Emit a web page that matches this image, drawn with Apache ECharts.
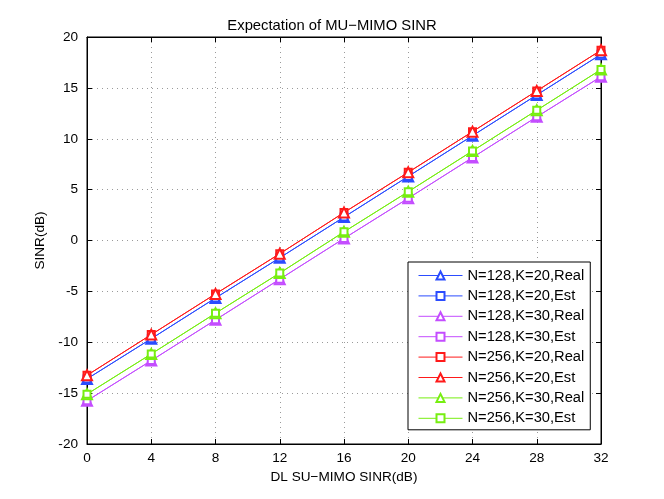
<!DOCTYPE html>
<html>
<head>
<meta charset="utf-8">
<script src="https://cdn.jsdelivr.net/npm/echarts@6/dist/echarts.min.js"></script>
<style>
  html, body { margin: 0; padding: 0; background: #fff; }
  #chart { width: 664px; height: 499px; }
</style>
</head>
<body>
<div id="chart"></div>
<script>
var xValues = [0, 4, 8, 12, 16, 20, 24, 28, 32];

// Real and Est overlap almost exactly
var n128k20Real = [-13.6, -9.65, -5.65, -1.7, 2.3, 6.3, 10.3, 14.3, 18.3];
var n128k20Est  = [-13.6, -9.65, -5.65, -1.7, 2.3, 6.3, 10.3, 14.3, 18.3];
var n128k30Real = [-15.75, -11.8, -7.8, -3.8, 0.2, 4.15, 8.15, 12.15, 16.1];
var n128k30Est  = [-15.75, -11.8, -7.8, -3.8, 0.2, 4.15, 8.15, 12.15, 16.1];
var n256k20Real = [-13.25, -9.25, -5.25, -1.3, 2.75, 6.7, 10.7, 14.7, 18.7];
var n256k20Est  = [-13.25, -9.25, -5.25, -1.3, 2.75, 6.7, 10.7, 14.7, 18.7];
var n256k30Real = [-15.1, -11.15, -7.15, -3.2, 0.85, 4.8, 8.8, 12.8, 16.8];
var n256k30Est  = [-15.1, -11.15, -7.15, -3.2, 0.85, 4.8, 8.8, 12.8, 16.8];

var seriesNames = [
  'N=128,K=20,Real', 'N=128,K=20,Est',
  'N=128,K=30,Real', 'N=128,K=30,Est',
  'N=256,K=20,Real', 'N=256,K=20,Est',
  'N=256,K=30,Real', 'N=256,K=30,Est'
];
var seriesData = [n128k20Real, n128k20Est, n128k30Real, n128k30Est,
                  n256k20Real, n256k20Est, n256k30Real, n256k30Est];
var seriesColors = ['#2b4cff', '#2b4cff', '#c44dff', '#c44dff',
                    '#ff1a1a', '#ff1a1a', '#77ee11', '#77ee11'];
var seriesSymbols = ['emptyTriangle', 'emptyRect', 'emptyTriangle', 'emptyRect',
                     'emptyRect', 'emptyTriangle', 'emptyTriangle', 'emptyRect'];

var font = 'Liberation Sans, Arial, Helvetica, sans-serif';

function pairs(arr) {
  return arr.map(function (v, i) { return [xValues[i], v]; });
}

var series = seriesNames.map(function (name, i) {
  var tri = seriesSymbols[i] === 'emptyTriangle';
  return {
    name: name,
    type: 'line',
    data: pairs(seriesData[i]),
    symbol: seriesSymbols[i],
    symbolSize: tri ? 10 : 7,
    showAllSymbol: true,
    color: seriesColors[i],
    lineStyle: { width: 1, color: seriesColors[i] },
    itemStyle: { color: seriesColors[i], borderColor: seriesColors[i], borderWidth: 1 },
    animation: false
  };
});

var gridLine = { show: true, lineStyle: { color: '#9a9a9a', type: [1, 4], width: 1 } };

var option = {
  backgroundColor: '#fff',
  animation: false,
  title: {
    text: 'Expectation of MU\u2212MIMO SINR',
    left: 'center',
    top: 13,
    textStyle: { fontFamily: font, fontSize: 14.8, fontWeight: 'normal', color: '#000' }
  },
  legend: {
    orient: 'vertical',
    left: 408,
    top: 262,
    padding: [6, 6, 4, 10],
    itemGap: 5.4,
    itemWidth: 44,
    itemHeight: 10,
    backgroundColor: '#fff',
    borderColor: '#000',
    borderWidth: 1,
    lineStyle: { width: 1 },
    itemStyle: { borderWidth: 1 },
    textStyle: { fontFamily: font, fontSize: 14.7, lineHeight: 14, color: '#000' },
    data: seriesNames
  },
  grid: {
    left: 87, right: 63, top: 37, bottom: 55,
    show: true, borderColor: '#000', borderWidth: 1, backgroundColor: 'transparent'
  },
  xAxis: [{
    type: 'value',
    min: 0, max: 32, interval: 4,
    name: 'DL SU\u2212MIMO SINR(dB)',
    nameLocation: 'middle',
    nameGap: 24,
    nameTextStyle: { fontFamily: font, fontSize: 13.6, color: '#000' },
    axisLine: { show: true, onZero: false, lineStyle: { color: '#000' } },
    axisTick: { show: true, inside: true, length: 5, lineStyle: { color: '#000' } },
    axisLabel: { fontFamily: font, fontSize: 13.6, color: '#000', margin: 7 },
    splitLine: gridLine
  }, {
    type: 'value', position: 'top',
    min: 0, max: 32, interval: 4,
    axisLine: { show: true, onZero: false, lineStyle: { color: '#000' } },
    axisTick: { show: true, inside: true, length: 5, lineStyle: { color: '#000' } },
    axisLabel: { show: false },
    splitLine: { show: false }
  }],
  yAxis: [{
    type: 'value',
    min: -20, max: 20, interval: 5,
    name: 'SINR(dB)',
    nameLocation: 'middle',
    nameGap: 40,
    nameTextStyle: { fontFamily: font, fontSize: 13.6, color: '#000' },
    axisLine: { show: true, onZero: false, lineStyle: { color: '#000' } },
    axisTick: { show: true, inside: true, length: 5, lineStyle: { color: '#000' } },
    axisLabel: { fontFamily: font, fontSize: 13.6, color: '#000', margin: 9 },
    splitLine: gridLine
  }, {
    type: 'value', position: 'right',
    min: -20, max: 20, interval: 5,
    axisLine: { show: true, onZero: false, lineStyle: { color: '#000' } },
    axisTick: { show: true, inside: true, length: 5, lineStyle: { color: '#000' } },
    axisLabel: { show: false },
    splitLine: { show: false }
  }],
  series: series
};

var chart = echarts.init(document.getElementById('chart'), null, { renderer: 'canvas' });
chart.setOption(option);
</script>
</body>
</html>
